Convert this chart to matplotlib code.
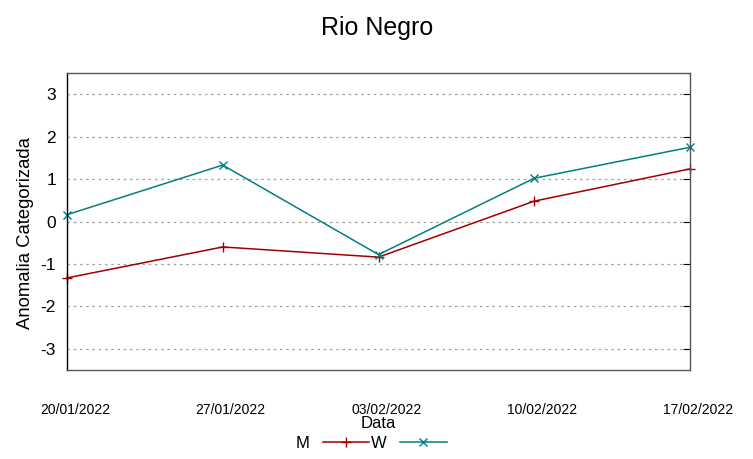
import matplotlib
matplotlib.use("Agg")
import matplotlib.pyplot as plt
import matplotlib.transforms as mtransforms

plt.rcParams['font.family'] = ['Liberation Sans', 'DejaVu Sans']

dates = ["20/01/2022", "27/01/2022", "03/02/2022", "10/02/2022", "17/02/2022"]
m_values = [-1.33, -0.60, -0.84, 0.48, 1.24]
w_values = [0.16, 1.33, -0.78, 1.02, 1.75]
y_ticks = [-3, -2, -1, 0, 1, 2, 3]

fig = plt.figure(figsize=(7.53, 4.59), dpi=100)
ax = fig.add_axes([67/753, 89/459, 623/753, 297/459])

x = list(range(len(dates)))
l1, = ax.plot(x, m_values, color="#a00000", lw=1.1, marker="+", ms=7, mew=1.0, label="M", clip_on=False)
l2, = ax.plot(x, w_values, color="#008080", lw=1.1, marker="x", ms=6, mew=1.0, label="W", clip_on=False)

ax.set_xlim(0, len(dates) - 1)
ax.set_ylim(-3.5, 3.5)
ax.set_yticks(y_ticks)
ax.set_yticklabels([str(v) for v in y_ticks], fontsize=12.5)
ax.set_xticks(x)
ax.set_xticklabels(dates, fontsize=10)
ax.tick_params(axis='x', length=0, pad=24)
ax.tick_params(axis='y', direction='in', length=5, right=True, left=False, pad=8, colors='black')
offset = mtransforms.ScaledTranslation(8/100, 0, fig.dpi_scale_trans)
for lab in ax.get_xticklabels():
    lab.set_transform(lab.get_transform() + offset)

ax.yaxis.grid(True, linestyle=(0, (2, 3)), color="#a0a0a0", lw=0.9)
ax.set_axisbelow(True)
for side in ['top', 'right', 'bottom']:
    ax.spines[side].set_color('#555555')
ax.spines['left'].set_color('black')
for s in ax.spines.values():
    s.set_linewidth(1.0)

ax.set_ylabel("Anomalia Categorizada", fontsize=13.3)
ax.yaxis.set_label_coords(-(67 - 34) / 623, 0.5 - 12 / 297)
ax.set_xlabel("Data", fontsize=12, labelpad=0)
ax.xaxis.set_label_coords(0.5, -0.155)
fig.text(377/753, 1 - 28/459, "Rio Negro", fontsize=18, ha='center', va='center')

fig.legend(handles=[l1, l2], loc='center', bbox_to_anchor=(371/753, 1 - 443/459),
           ncol=2, frameon=False, markerfirst=False, fontsize=12,
           handlelength=2.8, columnspacing=0.1, handletextpad=0.8, numpoints=1)

fig.savefig("out.png", dpi=100)
